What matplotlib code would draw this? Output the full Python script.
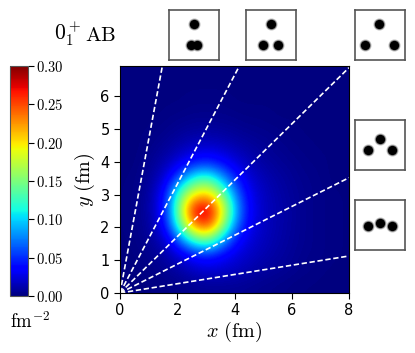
import numpy as np
import matplotlib
matplotlib.use('Agg')
import matplotlib.pyplot as plt

plt.rcParams['mathtext.fontset'] = 'cm'

# density, rows y = 0..7, columns x = 0..8 (step 0.5)
x_nodes = np.arange(0, 8.5, 0.5)
y_nodes = np.arange(0, 7.5, 0.5)
density = [
    [.000, .001, .001, .002, .003, .005, .006, .006, .006, .005, .004, .003, .002, .001, .001, .000, .000],
    [.000, .001, .003, .006, .011, .018, .022, .021, .017, .013, .009, .007, .005, .003, .002, .001, .000],
    [.000, .002, .005, .012, .024, .040, .046, .036, .026, .019, .014, .010, .007, .004, .003, .002, .001],
    [.001, .003, .009, .024, .075, .130, .150, .095, .044, .025, .017, .012, .008, .005, .003, .002, .001],
    [.001, .004, .013, .050, .145, .240, .262, .180, .080, .032, .019, .013, .009, .005, .003, .002, .001],
    [.001, .005, .015, .056, .172, .275, .288, .205, .095, .036, .019, .013, .009, .005, .003, .002, .001],
    [.001, .004, .014, .050, .140, .195, .208, .155, .076, .032, .018, .012, .008, .005, .003, .002, .001],
    [.001, .003, .010, .029, .072, .118, .130, .090, .048, .024, .015, .010, .007, .004, .003, .001, .000],
    [.000, .002, .007, .015, .029, .045, .050, .040, .026, .016, .010, .007, .005, .003, .002, .001, .000],
    [.000, .001, .004, .008, .014, .020, .022, .019, .014, .010, .007, .005, .003, .002, .001, .001, .000],
    [.000, .001, .002, .004, .007, .009, .010, .009, .007, .005, .004, .003, .002, .001, .001, .000, .000],
    [.000, .000, .001, .002, .003, .004, .004, .004, .003, .002, .002, .001, .001, .001, .000, .000, .000],
    [.000, .000, .000, .001, .001, .002, .002, .002, .001, .001, .001, .001, .000, .000, .000, .000, .000],
    [.000, .000, .000, .000, .001, .001, .001, .001, .001, .000, .000, .000, .000, .000, .000, .000, .000],
    [.000, .000, .000, .000, .000, .000, .000, .000, .000, .000, .000, .000, .000, .000, .000, .000, .000],
]

# far ends of the dashed rays
ray_x = [1.48, 4.17, 8.0, 8.0, 8.0]
ray_y = [6.93, 6.93, 6.88, 3.52, 1.13]

# three dots per small box, pixels inside a 50 px box
boxes = {
    (169, 10): [(24.7, 13.7), (21.7, 35), (27.7, 35)],
    (246, 10): [(24.7, 13.7), (17, 35), (32.3, 35)],
    (355, 10): [(24.3, 13.7), (10.3, 35), (38.7, 35)],
    (355, 120): [(25, 19.3), (13.3, 30.3), (37.3, 30.3)],
    (355, 200): [(13.3, 26.3), (25, 22.7), (37.3, 26.3)],
}

W, H = 415, 353
fig = plt.figure(figsize=(W / 100, H / 100), dpi=100)


def pix_axes(x0, y0, x1, y1):
    return fig.add_axes([x0 / W, 1 - y1 / H, (x1 - x0) / W, (y1 - y0) / H])


ax = pix_axes(120, 66, 349, 293)
im = ax.imshow(density, origin='lower', cmap='jet', vmin=0, vmax=0.3,
               extent=[x_nodes[0], x_nodes[-1], y_nodes[0], y_nodes[-1]],
               interpolation='bicubic', aspect='auto')
for xe, ye in zip(ray_x, ray_y):
    ax.plot([0, xe], [0, ye], color='white', ls=(0, (3.2, 1.6)), lw=1.2)
ax.set_xlim(0, 8)
ax.set_ylim(0, 6.93)
ax.set_xticks([0, 2, 4, 6, 8])
ax.set_yticks([0, 1, 2, 3, 4, 5, 6])
ax.tick_params(labelsize=10.5, length=4)
ax.set_xlabel(r'$x\ (\mathrm{fm})$', fontsize=14.5, labelpad=1)
ax.set_ylabel(r'$y\ (\mathrm{fm})$', fontsize=14.5, labelpad=2.5)

cax = pix_axes(10, 66, 28, 296)
cb = fig.colorbar(im, cax=cax)
cb.set_ticks([0, 0.05, 0.10, 0.15, 0.20, 0.25, 0.30])
cb.set_ticklabels([r'$\mathrm{%.2f}$' % t for t in cb.get_ticks()])
cb.ax.tick_params(labelsize=10.5, length=4, pad=2)
cb.outline.set_edgecolor('#555555')

fig.text(10 / W, 1 - 328 / H, r'$\mathrm{fm}^{-2}$', fontsize=13.5, va='baseline')
fig.text(54 / W, 1 - 41 / H, r'$0_1^+$', fontsize=15.5, va='baseline')
fig.text(85 / W, 1 - 41 / H, r'$\mathrm{AB}$', fontsize=15, va='baseline')

for (bx, by), dots in boxes.items():
    b = pix_axes(bx, by, bx + 50, by + 50)
    b.set_xlim(0, 50)
    b.set_ylim(50, 0)
    b.set_xticks([])
    b.set_yticks([])
    for s in b.spines.values():
        s.set_edgecolor('#555555')
        s.set_linewidth(1.2)
    dx, dy = zip(*dots)
    b.scatter(dx, dy, s=78, color='#cccccc', linewidths=0)
    b.scatter(dx, dy, s=60, color='#808080', linewidths=0)
    b.scatter(dx, dy, s=44, color='black', linewidths=0)

fig.savefig('out.png', dpi=100)
